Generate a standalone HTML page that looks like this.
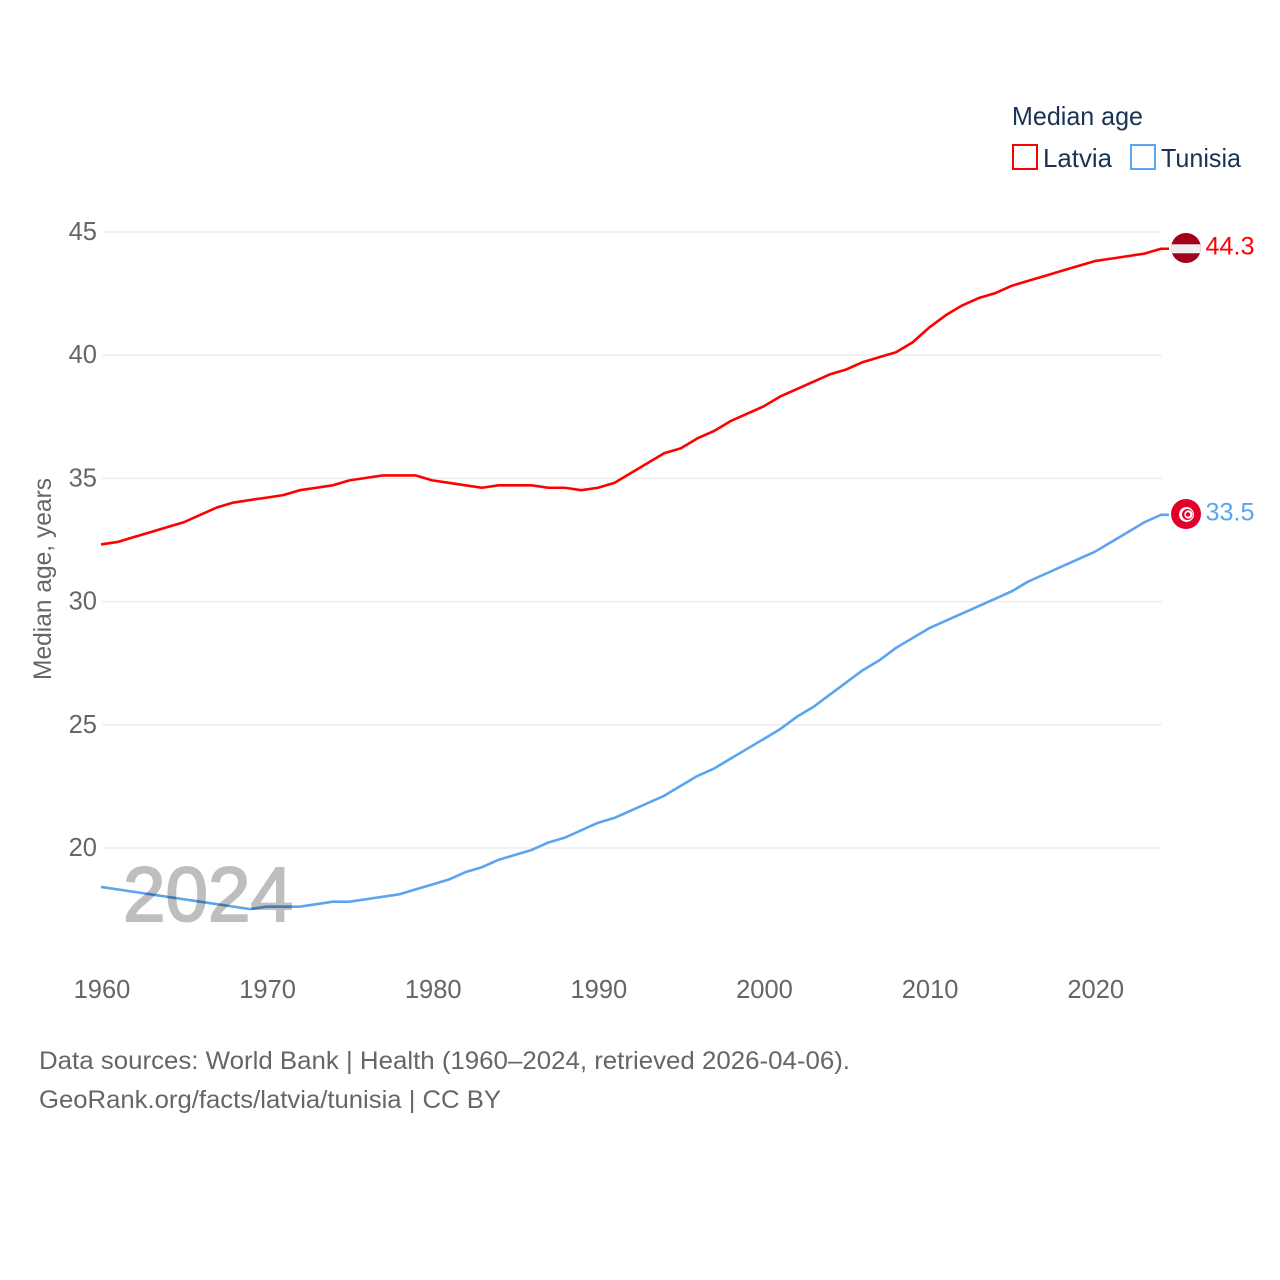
<!DOCTYPE html>
<html lang="en">
<head>
<meta charset="utf-8">
<title>Median age: Latvia and Tunisia</title>
<style>
html,body{margin:0;padding:0;background:#fff;width:1280px;height:1280px;overflow:hidden}
svg{display:block;font-family:"Liberation Sans",sans-serif}
</style>
</head>
<body>
<svg id="chart" xmlns="http://www.w3.org/2000/svg" width="1280" height="1280" viewBox="0 0 1280 1280">
  <rect x="0" y="0" width="1280" height="1280" fill="#fff"/>
  <g id="grid"></g>
  <g id="yticks"></g>
  <g id="xticks"></g>
  <text transform="translate(51,579) rotate(-90)" text-anchor="middle" font-size="25" fill="#666" textLength="202" lengthAdjust="spacingAndGlyphs">Median age, years</text>
  <g id="series"></g>
  <g opacity="0.25">
    <text x="208" y="921" text-anchor="middle" font-size="77" fill="#000" stroke="#000" stroke-width="2" textLength="170" lengthAdjust="spacingAndGlyphs">2024</text>
  </g>

  <g>
    <clipPath id="clip-lv"><circle cx="1186" cy="248" r="15"/></clipPath>
    <g clip-path="url(#clip-lv)">
      <rect x="1171" y="233" width="30" height="30" fill="#a3001e"/>
      <rect x="1171" y="244.3" width="30" height="9" fill="#eeeeee"/>
    </g>
  </g>
  <g>
    <circle cx="1186" cy="514" r="15" fill="#e2002a"/>
    <circle cx="1186.5" cy="514.5" r="7.5" fill="#fff"/>
    <circle cx="1187.5" cy="514.5" r="5.5" fill="#e2002a"/>
    <circle cx="1188.5" cy="514.5" r="4.2" fill="#fff"/>
    <circle cx="1188" cy="514.5" r="2.2" fill="#e2002a"/>
  </g>
  <text x="1205.5" y="254.5" font-size="25" fill="#ff0000" textLength="49" lengthAdjust="spacingAndGlyphs">44.3</text>
  <text x="1205.5" y="520.5" font-size="25" fill="#5ba4f0" textLength="49" lengthAdjust="spacingAndGlyphs">33.5</text>

  <g>
    <text x="1012" y="125" font-size="26" fill="#1a3355" textLength="131" lengthAdjust="spacingAndGlyphs">Median age</text>
    <rect x="1013" y="145" width="24" height="24" fill="#fff" stroke="#ff0000" stroke-width="2"/>
    <text x="1043" y="167" font-size="26" fill="#1a3355" textLength="69" lengthAdjust="spacingAndGlyphs">Latvia</text>
    <rect x="1131" y="145" width="24" height="24" fill="#fff" stroke="#5ba4f0" stroke-width="2"/>
    <text x="1161" y="167" font-size="26" fill="#1a3355" textLength="80" lengthAdjust="spacingAndGlyphs">Tunisia</text>
  </g>

  <text x="39" y="1069" font-size="25" fill="#666" textLength="811" lengthAdjust="spacingAndGlyphs">Data sources: World Bank | Health (1960–2024, retrieved 2026-04-06).</text>
  <text x="39" y="1108" font-size="25" fill="#666" textLength="462" lengthAdjust="spacingAndGlyphs">GeoRank.org/facts/latvia/tunisia | CC BY</text>
</svg>
<script>
const firstYear = 1960;
const latviaValues = [32.3,32.4,32.6,32.8,33.0,33.2,33.5,33.8,34.0,34.1,34.2,34.3,34.5,34.6,34.7,34.9,35.0,35.1,35.1,35.1,34.9,34.8,34.7,34.6,34.7,34.7,34.7,34.6,34.6,34.5,34.6,34.8,35.2,35.6,36.0,36.2,36.6,36.9,37.3,37.6,37.9,38.3,38.6,38.9,39.2,39.4,39.7,39.9,40.1,40.5,41.1,41.6,42.0,42.3,42.5,42.8,43.0,43.2,43.4,43.6,43.8,43.9,44.0,44.1,44.3];
const tunisiaValues = [18.4,18.3,18.2,18.1,18.0,17.9,17.8,17.7,17.6,17.5,17.6,17.6,17.6,17.7,17.8,17.8,17.9,18.0,18.1,18.3,18.5,18.7,19.0,19.2,19.5,19.7,19.9,20.2,20.4,20.7,21.0,21.2,21.5,21.8,22.1,22.5,22.9,23.2,23.6,24.0,24.4,24.8,25.3,25.7,26.2,26.7,27.2,27.6,28.1,28.5,28.9,29.2,29.5,29.8,30.1,30.4,30.8,31.1,31.4,31.7,32.0,32.4,32.8,33.2,33.5];
const yTickValues = [20,25,30,35,40,45];
const xTickValues = [1960,1970,1980,1990,2000,2010,2020];

const NS = 'http://www.w3.org/2000/svg';
function xScale(year){ return 101 + (year - 1960) * (1060 / 64); }
function yScale(v){ return 848 - (v - 20) * 24.64; }

const gridG = document.getElementById('grid');
const yG = document.getElementById('yticks');
const xG = document.getElementById('xticks');
const seriesG = document.getElementById('series');

yTickValues.forEach(function(v){
  const line = document.createElementNS(NS,'line');
  
  
  line.setAttribute('x1', 102);
  line.setAttribute('x2', 1162);
  line.setAttribute('y1', yScale(v));
  line.setAttribute('y2', yScale(v));
  line.setAttribute('stroke', '#ebebeb');
  line.setAttribute('stroke-width', '1.3');
  gridG.appendChild(line);
  const t = document.createElementNS(NS,'text');
  
  
  t.setAttribute('x', 97);
  t.setAttribute('y', yScale(v) + 8);
  t.setAttribute('text-anchor', 'end');
  t.setAttribute('font-size', '25.5');
  t.setAttribute('fill', '#666');
  t.textContent = v;
  yG.appendChild(t);
});

xTickValues.forEach(function(y){
  const t = document.createElementNS(NS,'text');
  
  
  t.setAttribute('x', xScale(y) + 1);
  t.setAttribute('y', 998);
  t.setAttribute('text-anchor', 'middle');
  t.setAttribute('font-size', '25.5');
  t.setAttribute('fill', '#666');
  t.textContent = y;
  xG.appendChild(t);
});

function drawSeries(values, color, name){
  const pts = values.map(function(v, i){ return xScale(firstYear + i).toFixed(2) + ',' + (yScale(v) - 0.5).toFixed(2); });
  const lastValue = values[values.length - 1];
  const lastYear = firstYear + values.length - 1;
  pts.push((xScale(lastYear) + 8).toFixed(2) + ',' + (yScale(lastValue) - 0.5).toFixed(2));
  const p = document.createElementNS(NS,'polyline');
  
  
  p.setAttribute('points', pts.join(' '));
  p.setAttribute('fill', 'none');
  p.setAttribute('stroke', color);
  p.setAttribute('stroke-width', '2.6');
  p.setAttribute('stroke-linejoin', 'round');
  seriesG.appendChild(p);
}
drawSeries(latviaValues, '#ff0000', 'latvia-line');
drawSeries(tunisiaValues, '#5ba4f0', 'tunisia-line');
</script>
</body>
</html>
